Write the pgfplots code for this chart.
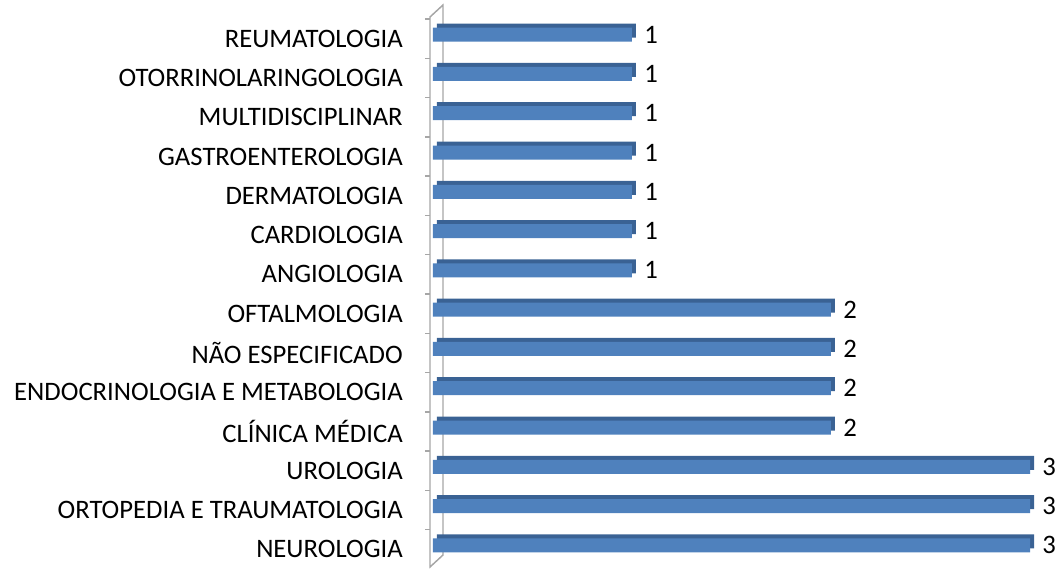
\documentclass[border=0pt]{standalone}
\usepackage{pgfplots}
\pgfplotsset{compat=1.18}
\usepackage{fontspec}
\setmainfont{Carlito}
\definecolor{barfront}{HTML}{4F81BD}
\definecolor{bardark}{HTML}{3A6294}
\definecolor{wall}{HTML}{A6A6A6}
\begin{document}
\begin{tikzpicture}
\begin{axis}[
  at={(0,0)}, anchor=south west,
  scale only axis,
  width=450pt, height=412.5pt,
  xmin=-0.015, xmax=3,
  ymin=-0.5, ymax=13.5,
  axis y line*=left, axis x line*=bottom,
  x axis line style={draw=none}, y axis line style={draw=none},
  xtick=\empty,
  major tick length=0pt,
  xbar, bar width=10.5pt,
  ytick={0,...,13},
  yticklabels={NEUROLOGIA,ORTOPEDIA E TRAUMATOLOGIA,UROLOGIA,CLÍNICA MÉDICA,ENDOCRINOLOGIA E METABOLOGIA,NÃO ESPECIFICADO,OFTALMOLOGIA,ANGIOLOGIA,CARDIOLOGIA,DERMATOLOGIA,GASTROENTEROLOGIA,MULTIDISCIPLINAR,OTORRINOLARINGOLOGIA,REUMATOLOGIA},
  yticklabel style={anchor=east, inner sep=0pt, xshift=-20.25pt, font=\fontsize{20}{24}\selectfont},
  /pgf/number format/assume math mode=true,
  clip=false,
]
% 3D wall (decoration)
\draw[wall, line width=1.1pt] ([xshift=9.75pt,yshift=10.5pt]rel axis cs:0,0) -- ([xshift=9.75pt,yshift=10.5pt]rel axis cs:0,1) -- ([yshift=1.5pt]rel axis cs:0,1) -- ([yshift=1.5pt]rel axis cs:0,0) -- cycle;
\pgfplotsinvokeforeach{0.5,1.5,2.5,3.5,4.5,5.5,6.5,7.5,8.5,9.5,10.5,11.5,12.5,13.5}{
  \draw[wall, line width=1.1pt] ([xshift=-3.75pt]axis cs:-0.015,#1) -- (axis cs:-0.015,#1);
}
\addplot[fill=bardark, draw=none, bar shift=6pt, xshift=3pt] coordinates {
(3,0) (3,1) (3,2) (2,3) (2,4) (2,5) (2,6) (1,7) (1,8) (1,9) (1,10) (1,11) (1,12) (1,13)};
\addplot[fill=barfront, draw=none, bar shift=3pt,
  nodes near coords, nodes near coords style={anchor=west, inner sep=0pt, xshift=9pt, font=\fontsize{20}{24}\selectfont, text=black}] coordinates {
(3,0) (3,1) (3,2) (2,3) (2,4) (2,5) (2,6) (1,7) (1,8) (1,9) (1,10) (1,11) (1,12) (1,13)};
\end{axis}
\pgfresetboundingbox
\path (-322.5pt,0pt) rectangle (474pt,426.75pt);
\end{tikzpicture}
\end{document}
